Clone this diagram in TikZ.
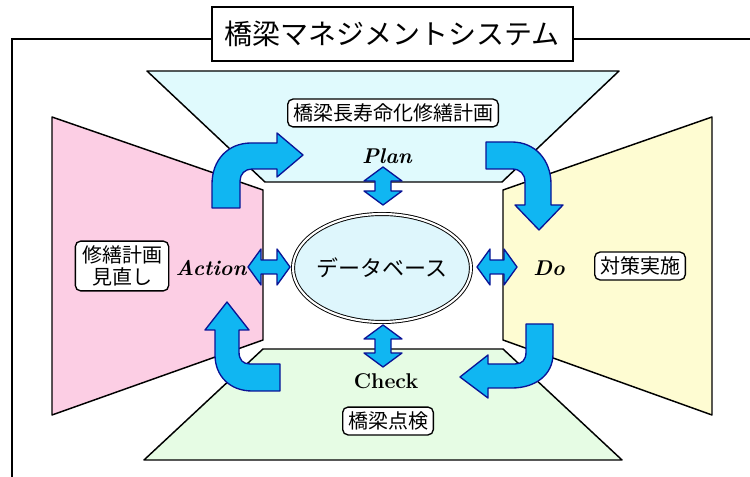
\documentclass[tikz,border=0pt]{standalone}
\usepackage{fontspec}
\newfontfamily\jpfont{Noto Sans CJK JP}

\tikzset{every picture/.style={line width=0.75pt}}
\tikzset{
  panel/.style={draw, line width=1.1pt, line join=round},
  bluearrow/.style={draw={rgb, 255:red, 10; green, 20; blue, 150 }, fill={rgb, 255:red, 16; green, 182; blue, 242 }, line width=1pt, line join=round},
  labelbox/.style={draw, fill=white, rounded corners=4pt, line width=1pt, inner xsep=4pt, inner ysep=3.5pt, align=center, font=\jpfont\fontsize{15}{17}\selectfont},
  phase/.style={font=\fontsize{16}{18}\selectfont\bfseries\itshape}
}

\begin{document}
\begin{tikzpicture}[x=0.75pt,y=0.75pt,yscale=-1,xscale=1]
	\useasboundingbox (0,0) rectangle (750,477);

	%Shape: Trapezoid top (Plan)
	\draw [panel, fill={rgb, 255:red, 224; green, 250; blue, 253 }] (147,71) -- (619,71) -- (502,182) -- (265,182) -- cycle ;
	%Shape: Trapezoid left (Action)
	\draw [panel, fill={rgb, 255:red, 252; green, 206; blue, 228 }] (52,117) -- (263,190) -- (263,340) -- (52,415) -- cycle ;
	%Shape: Trapezoid right (Do)
	\draw [panel, fill={rgb, 255:red, 254; green, 252; blue, 210 }] (712,117) -- (503,190) -- (503,340) -- (712,415) -- cycle ;
	%Shape: Trapezoid bottom (Check)
	\draw [panel, fill={rgb, 255:red, 230; green, 252; blue, 228 }] (263,349) -- (503,349) -- (622,460) -- (144,460) -- cycle ;

	%Straight Lines: outer frame
	\draw [line width=1.1pt] (212,39) -- (12,39) -- (12,477) ;
	\draw [line width=1.1pt] (573,39) -- (750,39) ;
	%Shape: Rectangle title
	\draw [line width=1.1pt, fill=white] (212,7) rectangle (573,61) ;

	%Shape: Ellipse database
	\draw [double, double distance=1.6pt, line width=0.7pt, fill={rgb, 255:red, 222; green, 246; blue, 252 }] (382,268) ellipse (89 and 54) ;

	%Shape: double arrows
	\draw [bluearrow] (383,167) -- (402,181) -- (391,181) -- (391,191) -- (402,191) -- (383,205) -- (364,191) -- (375,191) -- (375,181) -- (364,181) -- cycle ;
	\draw [bluearrow] (383,325) -- (402,339) -- (391,339) -- (391,353) -- (402,353) -- (383,367) -- (364,353) -- (375,353) -- (375,339) -- (364,339) -- cycle ;
	\draw [bluearrow] (248,267) -- (261,249) -- (261,260) -- (277,260) -- (277,249) -- (290,267) -- (277,285) -- (277,274) -- (261,274) -- (261,285) -- cycle ;
	\draw [bluearrow] (477,267) -- (490,249) -- (490,260) -- (504,260) -- (504,249) -- (517,267) -- (504,285) -- (504,274) -- (490,274) -- (490,285) -- cycle ;

	%Shape: bent arrow Action -> Plan
	\draw [bluearrow] (212,208) -- (212,184) .. controls (212,160) and (228,143) .. (251,143) -- (277,143) -- (277,133) -- (303,155) -- (277,177) -- (277,169) -- (252,169) .. controls (245,169) and (240,174) .. (240,181) -- (240,208) -- cycle ;
	%Shape: bent arrow Plan -> Do
	\draw [bluearrow] (486,142) -- (512,142) .. controls (535,142) and (551,160) .. (551,184) -- (551,205) -- (563,205) -- (539,230) -- (515,205) -- (525,205) -- (525,182) .. controls (525,174) and (520,169) .. (512,169) -- (486,169) -- cycle ;
	%Shape: bent arrow Do -> Check
	\draw [bluearrow] (553,324) -- (553,354) .. controls (553,375) and (535,388) .. (512,388) -- (488,388) -- (488,398) -- (460,377) -- (488,355) -- (488,364) -- (515,364) .. controls (522,364) and (526,360) .. (526,352) -- (526,324) -- cycle ;
	%Shape: bent arrow Check -> Action
	\draw [bluearrow] (280,364) -- (250,364) .. controls (243,364) and (239,360) .. (239,352) -- (239,330) -- (249,330) -- (227,302) -- (205,330) -- (215,330) -- (215,355) .. controls (215,376) and (230,391) .. (252,391) -- (280,391) -- cycle ;

	% Text Node
	\draw (392,34) node (title) [font=\jpfont\fontsize{21}{24}\selectfont] {橋梁マネジメントシステム};
	% Text Node
	\draw (382,268) node (db) [font=\jpfont\fontsize{16.5}{18}\selectfont] {データベース};
	% Text Node
	\draw (393,113) node (planbox) [labelbox] {橋梁長寿命化修繕計画};
	% Text Node
	\draw (122,266) node (actbox) [labelbox, inner xsep=5pt, font=\jpfont\fontsize{15}{16.5}\selectfont] {修繕計画\\見直し};
	% Text Node
	\draw (640,266) node (dobox) [labelbox] {対策実施};
	% Text Node
	\draw (388,421) node (chkbox) [labelbox] {橋梁点検};
	% Text Node
	\draw (387,156) node (plan) [phase] {Plan};
	% Text Node
	\draw (211,268) node (action) [phase] {Action};
	% Text Node
	\draw (549,268) node (do) [phase] {Do};
	% Text Node
	\draw (386,381) node (check) [font=\fontsize{16}{18}\selectfont\bfseries] {Check};

\end{tikzpicture}
\end{document}
